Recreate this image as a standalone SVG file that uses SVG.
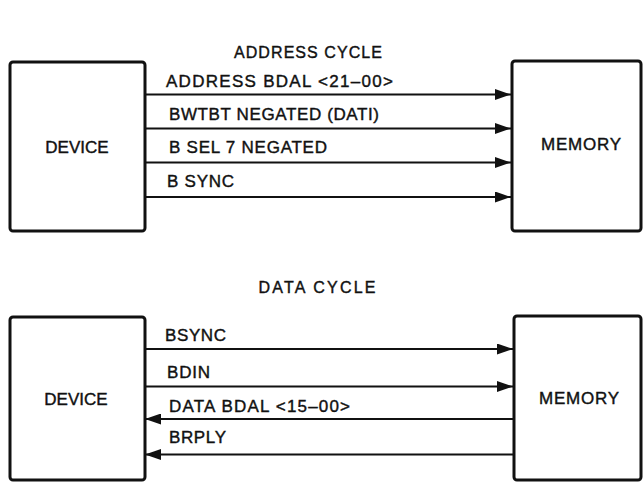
<svg xmlns="http://www.w3.org/2000/svg" width="643" height="483" viewBox="0 0 643 483">
<style>
text{font-family:"Liberation Sans",Arial,sans-serif;fill:#111;stroke:#111;stroke-width:0.4px;}
.t{font-size:16px;text-anchor:middle;}
.n{font-size:17px;text-anchor:middle;}
.l{font-size:17px;}
.box{fill:#fff;stroke:#111;stroke-width:3;}
.w{stroke:#111;stroke-width:2.2;fill:none;}
</style>
<defs>
<marker id="ah" viewBox="0 0 16 11" refX="16" refY="5.5" markerWidth="16" markerHeight="11" markerUnits="userSpaceOnUse" orient="auto">
<path d="M0,0 L16,5.5 L0,11 Z" fill="#111"/>
</marker>
</defs>
<text class="t" x="308" y="58" textLength="148" lengthAdjust="spacing">ADDRESS CYCLE</text>
<text class="t" x="317" y="293" textLength="117" lengthAdjust="spacing">DATA CYCLE</text>
<g id="device1"><rect class="box" x="10" y="62" width="135" height="169" rx="3"/><text class="n" x="77" y="153">DEVICE</text></g>
<g id="memory1"><rect class="box" x="512" y="61" width="129" height="170" rx="3"/><text class="n" x="581" y="150" textLength="80" lengthAdjust="spacing">MEMORY</text></g>
<g id="device2"><rect class="box" x="10" y="317" width="135" height="163" rx="3"/><text class="n" x="76" y="405">DEVICE</text></g>
<g id="memory2"><rect class="box" x="514" y="316" width="127" height="164" rx="3"/><text class="n" x="579" y="404" textLength="80" lengthAdjust="spacing">MEMORY</text></g>
<g id="connectors">
<line class="w" x1="145" y1="94.5" x2="511" y2="94.5" marker-end="url(#ah)"/>
<line class="w" x1="145" y1="128.5" x2="511" y2="128.5" marker-end="url(#ah)"/>
<line class="w" x1="145" y1="162.5" x2="511" y2="162.5" marker-end="url(#ah)"/>
<line class="w" x1="145" y1="197" x2="511" y2="197" marker-end="url(#ah)"/>
<line class="w" x1="145" y1="349" x2="513" y2="349" marker-end="url(#ah)"/>
<line class="w" x1="145" y1="386.5" x2="513" y2="386.5" marker-end="url(#ah)"/>
<line class="w" x1="514" y1="419" x2="145" y2="419" marker-end="url(#ah)"/>
<line class="w" x1="514" y1="454.5" x2="145" y2="454.5" marker-end="url(#ah)"/>
<text class="l" x="166" y="87" textLength="227" lengthAdjust="spacing">ADDRESS BDAL &lt;21–00&gt;</text>
<text class="l" x="169" y="120" textLength="210" lengthAdjust="spacing">BWTBT NEGATED (DATI)</text>
<text class="l" x="169" y="153" textLength="158" lengthAdjust="spacing">B SEL 7 NEGATED</text>
<text class="l" x="167" y="187" textLength="67" lengthAdjust="spacing">B SYNC</text>
<text class="l" x="165" y="341" textLength="61" lengthAdjust="spacing">BSYNC</text>
<text class="l" x="167" y="378" textLength="43" lengthAdjust="spacing">BDIN</text>
<text class="l" x="169" y="412" textLength="181" lengthAdjust="spacing">DATA BDAL &lt;15–00&gt;</text>
<text class="l" x="169" y="443" textLength="57" lengthAdjust="spacing">BRPLY</text>
</g>
</svg>
